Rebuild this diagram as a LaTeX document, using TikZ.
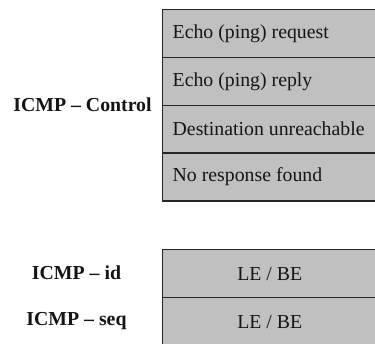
\documentclass[tikz,border=0pt]{standalone}
\usepackage{fontspec}
\setmainfont{Liberation Serif}
\definecolor{cellfill}{HTML}{C0C0C0}
\definecolor{cellline}{HTML}{262626}
\definecolor{txt}{HTML}{151515}
\newcommand{\lft}[1]{\makebox[194pt][l]{#1}}
\begin{document}
\begin{tikzpicture}[x=1pt,y=-1pt,
  cell/.style={draw=cellline, fill=cellfill, line width=1.4pt, rectangle,
    minimum height=47.8pt, minimum width=214pt, inner xsep=10pt, inner ysep=0pt,
    anchor=north west, text=txt,
    font=\fontsize{19.8}{22}\selectfont},
  lbl/.style={text=txt, inner sep=0pt, font=\fontsize{19.8}{22}\selectfont\bfseries}]
\useasboundingbox (0,0) rectangle (375,344);
\clip (0,0) rectangle (375,344);
\fill[white] (0,0) rectangle (375,344);
\node[cell] (r1) at (162,9) {\lft{Echo (ping) request}};
\node[cell] (r2) at (162,56.8) {\lft{Echo (ping) reply}};
\node[cell] (r3) at (162,104.6) {\lft{Destination unreachable}};
\node[cell] (r4) at (162,152.4) {\lft{No response found}};
\node[lbl] (ctl) at (82.5,104.6) {ICMP -- Control};
\node[cell] (r5) at (162,249) {LE / BE};
\node[cell] (r6) at (162,297) {LE / BE};
\node[lbl] (id) at (76.5,273) {ICMP -- id};
\node[lbl] (seq) at (76.5,321) {ICMP -- seq};
\end{tikzpicture}
\end{document}
